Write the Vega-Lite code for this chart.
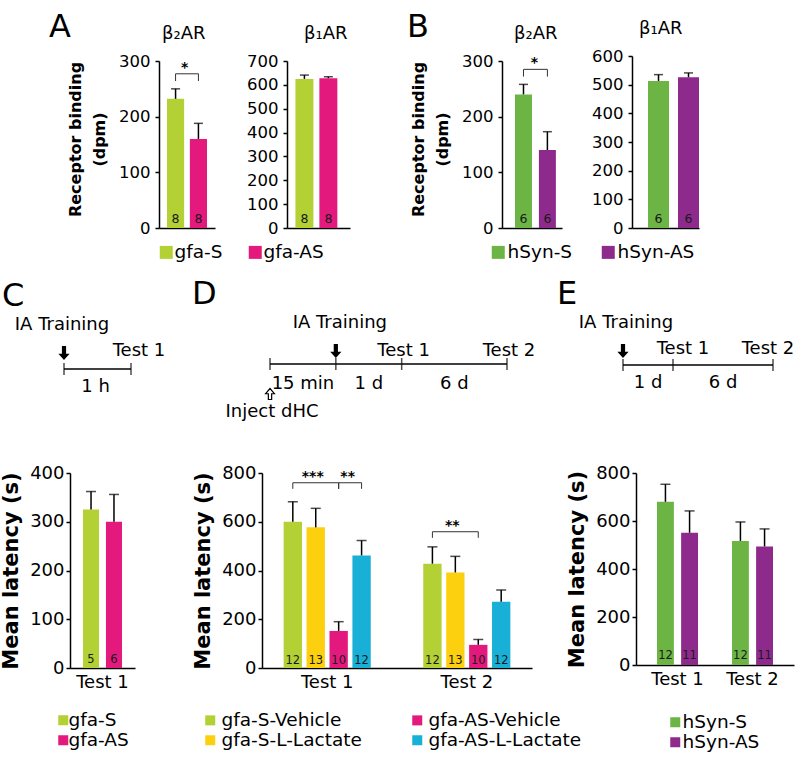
{
"$schema": "https://vega.github.io/schema/vega-lite/v6.json",
"padding": {"left": 0, "top": 11, "right": 4, "bottom": 4},
"columns": 7,
"align": "each",
"bounds": "flush",
"spacing": {"row": 245, "column": 0},
"resolve": {"scale": {"color": "independent", "xOffset": "independent"}},
"config": {
  "font": "DejaVu Sans",
  "view": {"stroke": null},
  "axis": {"grid": false, "domainColor": "black", "tickColor": "black", "labelColor": "black", "titleColor": "black", "domainWidth": 1.5, "tickWidth": 1.5, "labelOverlap": false},
  "legend": {"symbolType": "square", "symbolStrokeWidth": 0, "symbolOpacity": 1, "labelFontSize": 18.5, "labelColor": "black", "labelLimit": 400},
  "title": {"color": "black", "fontWeight": "normal"}
},
"concat": [
{
  "width": 89, "height": 167,
  "title": {"text": "A", "anchor": "start", "frame": "group", "fontSize": 32, "dx": -21, "offset": 17},
  "data": {"values": []}, "mark": "point"
},
{
  "width": 103, "height": 167,
  "title": {"text": "β₂AR", "anchor": "start", "frame": "group", "fontSize": 18, "offset": 10, "dx": 3},
  "data": {"values": [
    {"group": "gfa-S", "mean": 232, "hi": 250, "n": "8"},
    {"group": "gfa-AS", "mean": 160, "hi": 188, "n": "8"}
  ]},
  "encoding": {"x": {"field": "group", "type": "nominal", "sort": ["gfa-S", "gfa-AS"], "scale": {"range": [0, 56], "paddingInner": 0.25, "paddingOuter": 0.35}, "axis": {"title": null, "labels": false, "ticks": false}}},
  "layer": [
    {"mark": {"type": "bar"}, "encoding": {
      "y": {"field": "mean", "type": "quantitative", "scale": {"domain": [0, 300]}, "axis": {"values": [0, 100, 200, 300], "tickCount": 4, "labelOverlap": false, "title": ["Receptor binding", "(dpm)"], "titleY": 78, "titleFontSize": 16, "titleFontWeight": "bold", "titlePadding": 11, "titleLineHeight": 24, "labelFontSize": 16.5, "labelPadding": 5, "tickSize": 4}},
      "color": {"field": "group", "type": "nominal", "scale": {"domain": ["gfa-S", "gfa-AS"], "range": ["#b3d135", "#e4197d"]}, "legend": null}}},
    {"mark": {"type": "rule", "color": "black", "strokeWidth": 1.5}, "encoding": {"y": {"field": "mean", "type": "quantitative"}, "y2": {"field": "hi"}}},
    {"mark": {"type": "tick", "orient": "horizontal", "color": "black", "size": 9, "thickness": 1.5}, "encoding": {"y": {"field": "hi", "type": "quantitative"}}},
    {"mark": {"type": "text", "fontSize": 12.5, "dy": -5, "baseline": "alphabetic", "color": "#1a1a1a"}, "encoding": {"y": {"datum": 0}, "text": {"field": "n"}}},
    {"data": {"values": [
      {"group": "gfa-S", "v": 264, "k": 1}, {"group": "gfa-S", "v": 277, "k": 2},
      {"group": "gfa-AS", "v": 277, "k": 3}, {"group": "gfa-AS", "v": 264, "k": 4}]},
     "mark": {"type": "line", "color": "#333333", "strokeWidth": 1}, "encoding": {"y": {"field": "v", "type": "quantitative"}, "order": {"field": "k"}}},
    {"data": {"values": [{"group": "gfa-S", "v": 277, "s": "*"}]},
     "mark": {"type": "text", "dx": 9, "dy": -2, "baseline": "alphabetic", "fontSize": 14, "fontWeight": "bold"}, "encoding": {"y": {"field": "v", "type": "quantitative"}, "text": {"field": "s"}}}
  ]
},
{
  "width": 25, "height": 167,
  "title": {"text": "B", "anchor": "start", "frame": "group", "fontSize": 32, "dx": 145, "offset": 17},
  "data": {"values": []}, "mark": "point"
},
{
  "width": 215, "height": 167,
  "title": {"text": "β₁AR", "anchor": "start", "frame": "group", "fontSize": 18, "offset": 10, "dx": 17},
  "data": {"values": [
    {"group": "gfa-S", "mean": 625, "hi": 641, "n": "8"},
    {"group": "gfa-AS", "mean": 628, "hi": 634, "n": "8"}
  ]},
  "encoding": {"x": {"field": "group", "type": "nominal", "sort": ["gfa-S", "gfa-AS"], "scale": {"range": [0, 63], "paddingInner": 0.25, "paddingOuter": 0.44, "align": 0.4}, "axis": {"title": null, "labels": false, "ticks": false}}},
  "layer": [
    {"mark": {"type": "bar"}, "encoding": {
      "y": {"field": "mean", "type": "quantitative", "scale": {"domain": [0, 700]}, "axis": {"values": [0, 100, 200, 300, 400, 500, 600, 700], "tickCount": 8, "labelOverlap": false, "title": null, "labelFontSize": 16.5, "labelPadding": 5, "tickSize": 4}},
      "color": {"field": "group", "type": "nominal", "scale": {"domain": ["gfa-S", "gfa-AS"], "range": ["#b3d135", "#e4197d"]},
        "legend": {"title": null, "orient": "none", "legendX": -130, "legendY": 182, "direction": "horizontal", "symbolSize": 169, "columnPadding": 23, "labelOffset": -1}}}},
    {"mark": {"type": "rule", "color": "black", "strokeWidth": 1.5}, "encoding": {"y": {"field": "mean", "type": "quantitative", "axis": {"values": [0, 100, 200, 300, 400, 500, 600, 700], "tickCount": 8}}, "y2": {"field": "hi"}}},
    {"mark": {"type": "tick", "orient": "horizontal", "color": "black", "size": 9, "thickness": 1.5}, "encoding": {"y": {"field": "hi", "type": "quantitative", "axis": {"values": [0, 100, 200, 300, 400, 500, 600, 700], "tickCount": 8}}}},
    {"mark": {"type": "text", "fontSize": 12.5, "dy": -5, "baseline": "alphabetic", "color": "#1a1a1a"}, "encoding": {"y": {"datum": 0, "axis": {"values": [0, 100, 200, 300, 400, 500, 600, 700], "tickCount": 8}}, "text": {"field": "n"}}}
  ]
},
{
  "width": 130, "height": 167,
  "title": {"text": "β₂AR", "anchor": "start", "frame": "group", "fontSize": 18, "offset": 10, "dx": 12},
  "data": {"values": [
    {"group": "hSyn-S", "mean": 240, "hi": 258, "n": "6"},
    {"group": "hSyn-AS", "mean": 140, "hi": 173, "n": "6"}
  ]},
  "encoding": {"x": {"field": "group", "type": "nominal", "sort": ["hSyn-S", "hSyn-AS"], "scale": {"range": [0, 60], "paddingInner": 0.29, "paddingOuter": 0.4, "align": 0.68}, "axis": {"title": null, "labels": false, "ticks": false}}},
  "layer": [
    {"mark": {"type": "bar"}, "encoding": {
      "y": {"field": "mean", "type": "quantitative", "scale": {"domain": [0, 300]}, "axis": {"values": [0, 100, 200, 300], "tickCount": 4, "labelOverlap": false, "title": ["Receptor binding", "(dpm)"], "titleY": 78, "titleFontSize": 16, "titleFontWeight": "bold", "titlePadding": 11, "titleLineHeight": 24, "labelFontSize": 16.5, "labelPadding": 5, "tickSize": 4}},
      "color": {"field": "group", "type": "nominal", "scale": {"domain": ["hSyn-S", "hSyn-AS"], "range": ["#6cb545", "#8e2a8b"]}, "legend": null}}},
    {"mark": {"type": "rule", "color": "black", "strokeWidth": 1.5}, "encoding": {"y": {"field": "mean", "type": "quantitative"}, "y2": {"field": "hi"}}},
    {"mark": {"type": "tick", "orient": "horizontal", "color": "black", "size": 9, "thickness": 1.5}, "encoding": {"y": {"field": "hi", "type": "quantitative"}}},
    {"mark": {"type": "text", "fontSize": 12.5, "dy": -5, "baseline": "alphabetic", "color": "#1a1a1a"}, "encoding": {"y": {"datum": 0}, "text": {"field": "n"}}},
    {"data": {"values": [
      {"group": "hSyn-S", "v": 272, "k": 1}, {"group": "hSyn-S", "v": 285, "k": 2},
      {"group": "hSyn-AS", "v": 285, "k": 3}, {"group": "hSyn-AS", "v": 272, "k": 4}]},
     "mark": {"type": "line", "color": "#333333", "strokeWidth": 1}, "encoding": {"y": {"field": "v", "type": "quantitative"}, "order": {"field": "k"}}},
    {"data": {"values": [{"group": "hSyn-S", "v": 285, "s": "*"}]},
     "mark": {"type": "text", "dx": 11, "dy": -2, "baseline": "alphabetic", "fontSize": 14, "fontWeight": "bold"}, "encoding": {"y": {"field": "v", "type": "quantitative"}, "text": {"field": "s"}}}
  ]
},
{
  "width": 4, "height": 167,
  "title": {"text": "β₁AR", "anchor": "start", "frame": "group", "fontSize": 18, "offset": 10, "dx": 7},
  "data": {"values": [
    {"group": "hSyn-S", "mean": 513, "hi": 535, "n": "6"},
    {"group": "hSyn-AS", "mean": 526, "hi": 541, "n": "6"}
  ]},
  "encoding": {"x": {"field": "group", "type": "nominal", "sort": ["hSyn-S", "hSyn-AS"], "scale": {"range": [0, 67], "paddingInner": 0.3, "paddingOuter": 0.267, "align": 1}, "axis": {"title": null, "labels": false, "ticks": false}}},
  "layer": [
    {"mark": {"type": "bar"}, "encoding": {
      "y": {"field": "mean", "type": "quantitative", "scale": {"domain": [0, 600], "range": [167, -5]}, "axis": {"values": [0, 100, 200, 300, 400, 500, 600], "tickCount": 7, "labelOverlap": false, "title": null, "labelFontSize": 16.5, "labelPadding": 5, "tickSize": 4}},
      "color": {"field": "group", "type": "nominal", "scale": {"domain": ["hSyn-S", "hSyn-AS"], "range": ["#6cb545", "#8e2a8b"]},
        "legend": {"title": null, "orient": "none", "legendX": -143, "legendY": 182, "direction": "horizontal", "symbolSize": 169, "columnPadding": 26, "labelOffset": 0}}}},
    {"mark": {"type": "rule", "color": "black", "strokeWidth": 1.5}, "encoding": {"y": {"field": "mean", "type": "quantitative", "axis": {"values": [0, 100, 200, 300, 400, 500, 600], "tickCount": 7}}, "y2": {"field": "hi"}}},
    {"mark": {"type": "tick", "orient": "horizontal", "color": "black", "size": 9, "thickness": 1.5}, "encoding": {"y": {"field": "hi", "type": "quantitative", "axis": {"values": [0, 100, 200, 300, 400, 500, 600], "tickCount": 7}}}},
    {"mark": {"type": "text", "fontSize": 12.5, "dy": -5, "baseline": "alphabetic", "color": "#1a1a1a"}, "encoding": {"y": {"datum": 0, "axis": {"values": [0, 100, 200, 300, 400, 500, 600], "tickCount": 7}}, "text": {"field": "n"}}}
  ]
},
{
  "width": 1, "height": 1,
  "data": {"values": []}, "mark": "point"
},
{
  "width": 89, "height": 195,
  "title": {"text": "C", "anchor": "start", "frame": "group", "fontSize": 32, "dx": -68, "offset": 3},
  "resolve": {"scale": {"x": "independent"}},
  "layer": [
    {
      "data": {"values": [
        {"test": "Test 1", "group": "gfa-S", "mean": 325, "hi": 362, "n": "5"},
        {"test": "Test 1", "group": "gfa-AS", "mean": 300, "hi": 356, "n": "6"}
      ]},
      "encoding": {
        "x": {"field": "test", "type": "nominal", "scale": {"range": [0, 65], "paddingInner": 0, "paddingOuter": 0.333}, "axis": {"title": null, "ticks": false, "labelAngle": 0, "labelFontSize": 18, "labelPadding": 5}},
        "xOffset": {"field": "group", "type": "nominal", "sort": ["gfa-S", "gfa-AS"], "scale": {"paddingInner": 0.3, "paddingOuter": 0}}
      },
      "layer": [
        {"mark": {"type": "bar"}, "encoding": {
          "y": {"field": "mean", "type": "quantitative", "scale": {"domain": [0, 400]}, "axis": {"values": [0, 100, 200, 300, 400], "tickCount": 5, "labelOverlap": false, "title": "Mean latency (s)", "titleFontSize": 21, "titleFontWeight": "bold", "titlePadding": 8, "labelFontSize": 18, "labelPadding": 2, "tickSize": 4}},
          "color": {"field": "group", "type": "nominal", "scale": {"domain": ["gfa-S", "gfa-AS"], "range": ["#b3d135", "#e4197d"]},
            "legend": {"title": null, "orient": "none", "legendX": -16, "legendY": 238, "direction": "vertical", "symbolSize": 100, "rowPadding": 1, "labelOffset": -4}}}},
        {"mark": {"type": "rule", "color": "black", "strokeWidth": 1.5}, "encoding": {"y": {"field": "mean", "type": "quantitative"}, "y2": {"field": "hi"}}},
        {"mark": {"type": "tick", "orient": "horizontal", "color": "black", "size": 10, "thickness": 1.5}, "encoding": {"y": {"field": "hi", "type": "quantitative"}}},
        {"mark": {"type": "text", "fontSize": 11.5, "dy": -5, "baseline": "alphabetic", "color": "#1a1a1a"}, "encoding": {"y": {"datum": 0}, "text": {"field": "n"}}}
      ]
    },
    {
      "layer": [
        {"data": {"values": [{"from": 0, "to": 1}]}, "mark": {"type": "rule", "color": "black", "strokeWidth": 1.5, "yOffset": -201.5},
         "encoding": {"x": {"field": "from", "type": "quantitative", "scale": {"domain": [0, 1], "range": [-6, 61], "nice": false, "zero": false}, "axis": null}, "x2": {"field": "to"}}},
        {"data": {"values": [{"pos": 0}, {"pos": 1}]}, "mark": {"type": "tick", "orient": "vertical", "size": 12, "thickness": 1.5, "color": "black", "yOffset": -201.5},
         "encoding": {"x": {"field": "pos", "type": "quantitative"}}},
        {"data": {"values": [{"pos": 0}]}, "mark": {"type": "point", "shape": "M-0.3,-1L0.3,-1L0.3,0.1L0.8,0.1L0,1L-0.8,0.1L-0.3,0.1Z", "size": 196, "filled": true, "color": "black", "opacity": 1, "yOffset": -217.5},
         "encoding": {"x": {"field": "pos", "type": "quantitative"}}},
        {"data": {"values": [{"pos": 0, "label": "IA Training"}]}, "mark": {"type": "text", "fontSize": 18, "baseline": "alphabetic", "dy": -241, "dx": -2},
         "encoding": {"x": {"field": "pos", "type": "quantitative"}, "text": {"field": "label"}}},
        {"data": {"values": [{"pos": 1, "label": "Test 1"}]}, "mark": {"type": "text", "fontSize": 18, "baseline": "alphabetic", "dy": -215, "dx": 8},
         "encoding": {"x": {"field": "pos", "type": "quantitative"}, "text": {"field": "label"}}},
        {"data": {"values": [{"mid": 0.5, "label": "1 h"}]}, "mark": {"type": "text", "fontSize": 18, "baseline": "alphabetic", "dy": -178.5, "dx": -2},
         "encoding": {"x": {"field": "mid", "type": "quantitative"}, "text": {"field": "label"}}}
      ]
    }
  ]
},
{
  "width": 1, "height": 1,
  "data": {"values": []}, "mark": "point"
},
{
  "width": 25, "height": 195,
  "title": {"text": "D", "anchor": "start", "frame": "group", "fontSize": 32, "dx": -70, "offset": 3},
  "resolve": {"scale": {"x": "independent"}},
  "layer": [
    {
      "data": {"values": [
        {"test": "Test 1", "group": "gfa-S-Vehicle", "mean": 600, "hi": 682, "n": "12"},
        {"test": "Test 1", "group": "gfa-S-L-Lactate", "mean": 577, "hi": 655, "n": "13"},
        {"test": "Test 1", "group": "gfa-AS-Vehicle", "mean": 152, "hi": 190, "n": "10"},
        {"test": "Test 1", "group": "gfa-AS-L-Lactate", "mean": 462, "hi": 523, "n": "12"},
        {"test": "Test 2", "group": "gfa-S-Vehicle", "mean": 428, "hi": 497, "n": "12"},
        {"test": "Test 2", "group": "gfa-S-L-Lactate", "mean": 392, "hi": 458, "n": "13"},
        {"test": "Test 2", "group": "gfa-AS-Vehicle", "mean": 95, "hi": 117, "n": "10"},
        {"test": "Test 2", "group": "gfa-AS-L-Lactate", "mean": 272, "hi": 320, "n": "12"}
      ]},
      "encoding": {
        "x": {"field": "test", "type": "nominal", "scale": {"range": [0, 270], "paddingInner": 0.376, "paddingOuter": 0.155}, "axis": {"title": null, "ticks": false, "labelAngle": 0, "labelFontSize": 18, "labelPadding": 5}},
        "xOffset": {"field": "group", "type": "nominal", "sort": ["gfa-S-Vehicle", "gfa-S-L-Lactate", "gfa-AS-Vehicle", "gfa-AS-L-Lactate"], "scale": {"paddingInner": 0.2, "paddingOuter": 0}}
      },
      "layer": [
        {"mark": {"type": "bar"}, "encoding": {
          "y": {"field": "mean", "type": "quantitative", "scale": {"domain": [0, 800]}, "axis": {"values": [0, 200, 400, 600, 800], "tickCount": 5, "labelOverlap": false, "title": "Mean latency (s)", "titleFontSize": 21, "titleFontWeight": "bold", "titlePadding": 8, "labelFontSize": 18, "labelPadding": 2, "tickSize": 4}},
          "color": {"field": "group", "type": "nominal", "scale": {"domain": ["gfa-S-Vehicle", "gfa-S-L-Lactate", "gfa-AS-Vehicle", "gfa-AS-L-Lactate"], "range": ["#b3d135", "#fdd00f", "#e4197d", "#18b0d6"]},
            "legend": {"title": null, "orient": "none", "legendX": -61, "legendY": 238, "columns": 2, "symbolSize": 100, "rowPadding": 1, "columnPadding": 46, "labelOffset": 2}}}},
        {"mark": {"type": "rule", "color": "black", "strokeWidth": 1.5}, "encoding": {"y": {"field": "mean", "type": "quantitative"}, "y2": {"field": "hi"}}},
        {"mark": {"type": "tick", "orient": "horizontal", "color": "black", "size": 10, "thickness": 1.5}, "encoding": {"y": {"field": "hi", "type": "quantitative"}}},
        {"mark": {"type": "text", "fontSize": 11.5, "dy": -4, "baseline": "alphabetic", "color": "#1a1a1a"}, "encoding": {"y": {"datum": 0}, "text": {"field": "n"}}},
        {"data": {"values": [
          {"test": "Test 1", "group": "gfa-S-Vehicle", "v": 735, "k": 1, "b": "b1"},
          {"test": "Test 1", "group": "gfa-S-Vehicle", "v": 760, "k": 2, "b": "b1"},
          {"test": "Test 1", "group": "gfa-AS-Vehicle", "v": 760, "k": 3, "b": "b1"},
          {"test": "Test 1", "group": "gfa-AS-Vehicle", "v": 735, "k": 4, "b": "b1"},
          {"test": "Test 2", "group": "gfa-S-Vehicle", "v": 534, "k": 1, "b": "b3"},
          {"test": "Test 2", "group": "gfa-S-Vehicle", "v": 559, "k": 2, "b": "b3"},
          {"test": "Test 2", "group": "gfa-AS-Vehicle", "v": 559, "k": 3, "b": "b3"},
          {"test": "Test 2", "group": "gfa-AS-Vehicle", "v": 534, "k": 4, "b": "b3"}]},
         "mark": {"type": "line", "color": "#333333", "strokeWidth": 1, "xOffset": -3}, "encoding": {"y": {"field": "v", "type": "quantitative"}, "order": {"field": "k"}, "detail": {"field": "b"}}},
        {"data": {"values": [
          {"test": "Test 1", "group": "gfa-AS-Vehicle", "v": 735, "k": 1, "b": "b2"},
          {"test": "Test 1", "group": "gfa-AS-Vehicle", "v": 760, "k": 2, "b": "b2"},
          {"test": "Test 1", "group": "gfa-AS-L-Lactate", "v": 760, "k": 3, "b": "b2"},
          {"test": "Test 1", "group": "gfa-AS-L-Lactate", "v": 735, "k": 4, "b": "b2"}]},
         "mark": {"type": "line", "color": "#333333", "strokeWidth": 1, "xOffset": 2}, "encoding": {"y": {"field": "v", "type": "quantitative"}, "order": {"field": "k"}, "detail": {"field": "b"}}},
        {"data": {"values": [
          {"test": "Test 1", "group": "gfa-S-L-Lactate", "v": 760, "s": "***"},
          {"test": "Test 2", "group": "gfa-S-L-Lactate", "v": 559, "s": "**"}]},
         "mark": {"type": "text", "dx": -3, "dy": -2, "baseline": "alphabetic", "fontSize": 14, "fontWeight": "bold"}, "encoding": {"y": {"field": "v", "type": "quantitative"}, "text": {"field": "s"}}},
        {"data": {"values": [{"test": "Test 1", "group": "gfa-AS-Vehicle", "v": 760, "s": "**"}]},
         "mark": {"type": "text", "dx": 9, "dy": -2, "baseline": "alphabetic", "fontSize": 14, "fontWeight": "bold"}, "encoding": {"y": {"field": "v", "type": "quantitative"}, "text": {"field": "s"}}}
      ]
    },
    {
      "layer": [
        {"data": {"values": [{"from": 0, "to": 1}, {"from": 1, "to": 2}, {"from": 2, "to": 3.6}]}, "mark": {"type": "rule", "color": "black", "strokeWidth": 1.5, "yOffset": -206.5},
         "encoding": {"x": {"field": "from", "type": "quantitative", "scale": {"domain": [0, 3.6], "range": [8, 245], "nice": false, "zero": false}, "axis": null}, "x2": {"field": "to"}}},
        {"data": {"values": [{"pos": 0}, {"pos": 1}, {"pos": 2}, {"pos": 3.6}]}, "mark": {"type": "tick", "orient": "vertical", "size": 12, "thickness": 1.5, "color": "black", "yOffset": -206.5},
         "encoding": {"x": {"field": "pos", "type": "quantitative"}}},
        {"data": {"values": [{"pos": 1}]}, "mark": {"type": "point", "shape": "M-0.3,-1L0.3,-1L0.3,0.1L0.8,0.1L0,1L-0.8,0.1L-0.3,0.1Z", "size": 196, "filled": true, "color": "black", "opacity": 1, "yOffset": -219.5},
         "encoding": {"x": {"field": "pos", "type": "quantitative"}}},
        {"data": {"values": [{"pos": 0}]}, "mark": {"type": "point", "shape": "M-0.3,1L0.3,1L0.3,-0.05L0.8,-0.05L0,-1L-0.8,-0.05L-0.3,-0.05Z", "size": 121, "fill": "white", "stroke": "black", "strokeWidth": 1.2, "opacity": 1, "yOffset": -176.5},
         "encoding": {"x": {"field": "pos", "type": "quantitative"}}},
        {"data": {"values": [{"pos": 1, "label": "IA Training"}]}, "mark": {"type": "text", "fontSize": 18, "baseline": "alphabetic", "dy": -242.5, "dx": 4},
         "encoding": {"x": {"field": "pos", "type": "quantitative"}, "text": {"field": "label"}}},
        {"data": {"values": [{"pos": 2, "label": "Test 1"}, {"pos": 3.6, "label": "Test 2"}]}, "mark": {"type": "text", "fontSize": 18, "baseline": "alphabetic", "dy": -214.5, "dx": 2},
         "encoding": {"x": {"field": "pos", "type": "quantitative"}, "text": {"field": "label"}}},
        {"data": {"values": [{"mid": 0.5, "label": "15 min"}, {"mid": 1.5, "label": "1 d"}, {"mid": 2.8, "label": "6 d"}]}, "mark": {"type": "text", "fontSize": 18, "baseline": "alphabetic", "dy": -181.5},
         "encoding": {"x": {"field": "mid", "type": "quantitative"}, "text": {"field": "label"}}},
        {"data": {"values": [{"pos": 0, "label": "Inject dHC"}]}, "mark": {"type": "text", "fontSize": 18, "baseline": "alphabetic", "dy": -153.5, "dx": 2},
         "encoding": {"x": {"field": "pos", "type": "quantitative"}, "text": {"field": "label"}}}
      ]
    }
  ]
},
{
  "width": 1, "height": 1,
  "data": {"values": []}, "mark": "point"
},
{
  "width": 1, "height": 1,
  "data": {"values": []}, "mark": "point"
},
{
  "width": 1, "height": 1,
  "data": {"values": []}, "mark": "point"
},
{
  "width": 158, "height": 192,
  "title": {"text": "E", "anchor": "start", "frame": "group", "fontSize": 32, "dx": -79, "offset": 3},
  "resolve": {"scale": {"x": "independent"}},
  "layer": [
    {
      "data": {"values": [
        {"test": "Test 1", "group": "hSyn-S", "mean": 680, "hi": 753, "n": "12"},
        {"test": "Test 1", "group": "hSyn-AS", "mean": 551, "hi": 642, "n": "11"},
        {"test": "Test 2", "group": "hSyn-S", "mean": 517, "hi": 596, "n": "12"},
        {"test": "Test 2", "group": "hSyn-AS", "mean": 494, "hi": 567, "n": "11"}
      ]},
      "encoding": {
        "x": {"field": "test", "type": "nominal", "scale": {"paddingInner": 0.453, "paddingOuter": 0.28}, "axis": {"title": null, "ticks": false, "labelAngle": 0, "labelFontSize": 18, "labelPadding": 5}},
        "xOffset": {"field": "group", "type": "nominal", "sort": ["hSyn-S", "hSyn-AS"], "scale": {"paddingInner": 0.3, "paddingOuter": 0}}
      },
      "layer": [
        {"mark": {"type": "bar"}, "encoding": {
          "y": {"field": "mean", "type": "quantitative", "scale": {"domain": [0, 800]}, "axis": {"values": [0, 200, 400, 600, 800], "tickCount": 5, "labelOverlap": false, "title": "Mean latency (s)", "titleFontSize": 21, "titleFontWeight": "bold", "titlePadding": 8, "labelFontSize": 18, "labelPadding": 2, "tickSize": 4}},
          "color": {"field": "group", "type": "nominal", "scale": {"domain": ["hSyn-S", "hSyn-AS"], "range": ["#6cb545", "#8e2a8b"]},
            "legend": {"title": null, "orient": "none", "legendX": 30, "legendY": 240, "direction": "vertical", "symbolSize": 100, "rowPadding": 1, "labelOffset": -2}}}},
        {"mark": {"type": "rule", "color": "black", "strokeWidth": 1.5}, "encoding": {"y": {"field": "mean", "type": "quantitative"}, "y2": {"field": "hi"}}},
        {"mark": {"type": "tick", "orient": "horizontal", "color": "black", "size": 10, "thickness": 1.5}, "encoding": {"y": {"field": "hi", "type": "quantitative"}}},
        {"mark": {"type": "text", "fontSize": 11.5, "dy": -6, "baseline": "alphabetic", "color": "#1a1a1a"}, "encoding": {"y": {"datum": 0}, "text": {"field": "n"}}}
      ]
    },
    {
      "layer": [
        {"data": {"values": [{"from": 0, "to": 1}, {"from": 1, "to": 3}]}, "mark": {"type": "rule", "color": "black", "strokeWidth": 1.5, "yOffset": -204},
         "encoding": {"x": {"field": "from", "type": "quantitative", "scale": {"domain": [0, 3], "range": [-13, 137], "nice": false, "zero": false}, "axis": null}, "x2": {"field": "to"}}},
        {"data": {"values": [{"pos": 0}, {"pos": 1}, {"pos": 3}]}, "mark": {"type": "tick", "orient": "vertical", "size": 12, "thickness": 1.5, "color": "black", "yOffset": -204},
         "encoding": {"x": {"field": "pos", "type": "quantitative"}}},
        {"data": {"values": [{"pos": 0}]}, "mark": {"type": "point", "shape": "M-0.3,-1L0.3,-1L0.3,0.1L0.8,0.1L0,1L-0.8,0.1L-0.3,0.1Z", "size": 196, "filled": true, "color": "black", "opacity": 1, "yOffset": -218},
         "encoding": {"x": {"field": "pos", "type": "quantitative"}}},
        {"data": {"values": [{"pos": 0, "label": "IA Training"}]}, "mark": {"type": "text", "fontSize": 18, "baseline": "alphabetic", "dy": -241, "dx": 3},
         "encoding": {"x": {"field": "pos", "type": "quantitative"}, "text": {"field": "label"}}},
        {"data": {"values": [{"pos": 1, "label": "Test 1"}]}, "mark": {"type": "text", "fontSize": 18, "baseline": "alphabetic", "dy": -215, "dx": 10},
         "encoding": {"x": {"field": "pos", "type": "quantitative"}, "text": {"field": "label"}}},
        {"data": {"values": [{"pos": 3, "label": "Test 2"}]}, "mark": {"type": "text", "fontSize": 18, "baseline": "alphabetic", "dy": -215, "dx": -5},
         "encoding": {"x": {"field": "pos", "type": "quantitative"}, "text": {"field": "label"}}},
        {"data": {"values": [{"mid": 0.5, "label": "1 d"}, {"mid": 2, "label": "6 d"}]}, "mark": {"type": "text", "fontSize": 18, "baseline": "alphabetic", "dy": -181},
         "encoding": {"x": {"field": "mid", "type": "quantitative"}, "text": {"field": "label"}}}
      ]
    }
  ]
}
]
}
